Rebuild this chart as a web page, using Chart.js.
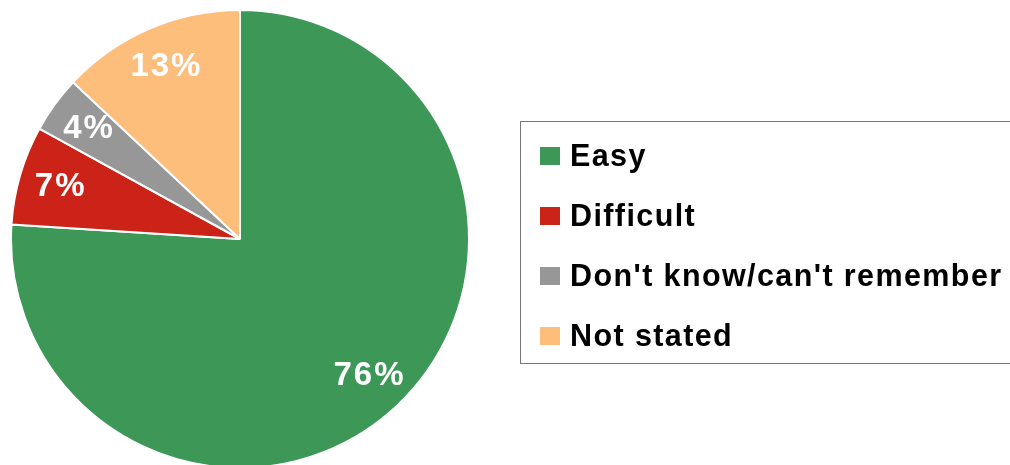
<!DOCTYPE html>
<html lang="en">
<head>
    <meta charset="UTF-8">
    <title>Ease of process</title>
    <script src="https://cdn.jsdelivr.net/npm/chart.js"></script>
    <style>
        html, body {
            margin: 0;
            padding: 0;
            background: #fff;
            overflow: hidden;
            font-family: 'Liberation Sans', Arial, sans-serif;
        }

        .wrap {
            position: relative;
            width: 1010px;
            height: 465px;
        }

        /* Boxed legend on the right */
        #legend {
            position: absolute;
            left: 520px;
            top: 121px;
            width: 500px;
            height: 243px;
            border: 1px solid #777;
            box-sizing: border-box;
        }

        #legend ul {
            list-style: none;
            margin: 0;
            padding: 0;
        }

        #legend li {
            position: absolute;
            left: 19px;
            display: flex;
            align-items: center;
            font-weight: bold;
            font-size: 30.5px;
            letter-spacing: 1.4px;
            color: #000;
            white-space: nowrap;
        }

        #legend .swatch {
            display: inline-block;
            width: 20px;
            height: 18px;
            margin-right: 10px;
        }
    </style>
</head>
<body>
    <div class="wrap">
        <canvas id="pieChart" width="1010" height="465"></canvas>
        <div id="legend"></div>
    </div>

    <script>
        // Survey answers
        const categories = ['Easy', 'Difficult', "Don't know/can't remember", 'Not stated'];
        const shares = [76, 7, 4, 13];
        const sliceColors = ['#3d9858', '#cb2317', '#979797', '#fdbd7b'];

        // Writes the percentage inside each slice
        const sliceLabels = {
            id: 'sliceLabels',
            afterDatasetsDraw(chart) {
                const ctx = chart.ctx;
                const meta = chart.getDatasetMeta(0);
                ctx.save();
                ctx.fillStyle = '#fff';
                ctx.font = 'bold 33px "Liberation Sans", Arial, sans-serif';
                ctx.letterSpacing = '2px';
                ctx.textAlign = 'center';
                ctx.textBaseline = 'middle';
                meta.data.forEach((arc, i) => {
                    const p = arc.getProps(['x', 'y', 'startAngle', 'endAngle', 'outerRadius']);
                    const mid = (p.startAngle + p.endAngle) / 2;
                    const r = p.outerRadius * 0.82;
                    ctx.fillText(shares[i] + '%', p.x + Math.cos(mid) * r + 1, p.y + Math.sin(mid) * r);
                });
                ctx.restore();
            }
        };

        // HTML legend built from the chart's own label list
        const boxLegend = {
            id: 'boxLegend',
            afterUpdate(chart) {
                const box = document.getElementById('legend');
                box.innerHTML = '';
                const ul = document.createElement('ul');
                const items = chart.options.plugins.legend.labels.generateLabels(chart);
                items.forEach((item, i) => {
                    const li = document.createElement('li');
                    li.style.top = (16 + i * 60) + 'px';
                    const sw = document.createElement('span');
                    sw.className = 'swatch';
                    sw.style.background = item.fillStyle;
                    li.appendChild(sw);
                    li.appendChild(document.createTextNode(item.text));
                    ul.appendChild(li);
                });
                box.appendChild(ul);
            }
        };

        new Chart(document.getElementById('pieChart'), {
            type: 'pie',
            data: {
                labels: categories,
                datasets: [{
                    data: shares,
                    backgroundColor: sliceColors,
                    borderColor: '#fff',
                    borderWidth: 2
                }]
            },
            options: {
                responsive: false,
                animation: false,
                radius: 229,
                layout: {
                    padding: { left: 0, right: 530, top: 13, bottom: 0 }
                },
                plugins: {
                    legend: { display: false },
                    tooltip: { enabled: false }
                }
            },
            plugins: [sliceLabels, boxLegend]
        });
    </script>
</body>
</html>
